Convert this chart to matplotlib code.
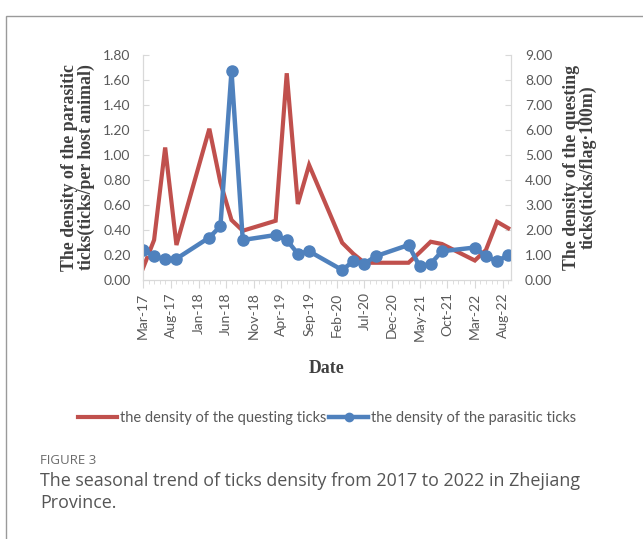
import pandas as pd
import matplotlib.pyplot as plt
import matplotlib.dates as mdates
from matplotlib.patches import Rectangle
from matplotlib.ticker import FuncFormatter

# Sampling dates (Mar, May, Jul, Sep of each year)
sample_dates = ['2017-03', '2017-05', '2017-07', '2017-09',
                '2018-03', '2018-05', '2018-07', '2018-09',
                '2019-03', '2019-05', '2019-07', '2019-09',
                '2020-03', '2020-05', '2020-07', '2020-09',
                '2021-03', '2021-05', '2021-07', '2021-09',
                '2022-03', '2022-05', '2022-07', '2022-09']

# Questing ticks, ticks/flag·100m (right axis)
questing = [0.47, 1.60, 5.30, 1.40,
            6.05, 3.90, 2.40, 1.97,
            2.37, 8.27, 3.04, 4.60,
            1.49, 1.05, 0.69, 0.69,
            0.69, 1.10, 1.53, 1.44,
            0.78, 1.20, 2.33, 2.07]

# Parasitic ticks, ticks/per host animal (left axis)
parasitic = [0.24, 0.19, 0.165, 0.17,
             0.34, 0.43, 1.67, 0.32,
             0.36, 0.32, 0.21, 0.23,
             0.08, 0.15, 0.13, 0.19,
             0.28, 0.11, 0.13, 0.23,
             0.26, 0.19, 0.15, 0.20]

dates = pd.to_datetime(sample_dates)

RED = '#C0504D'
BLUE = '#4F81BD'
GRAY = '#595959'
SPINE = '#D9D9D9'
tick_font = 'Lato'
label_font = 'Liberation Serif'

fig = plt.figure(figsize=(6.43, 5.39), dpi=100)

# outer frame of the figure panel
fig.patches.append(Rectangle((6 / 643, -0.1), 1.2, 1.1 - 16 / 539, transform=fig.transFigure,
                             fill=False, edgecolor='#9a9a9a', linewidth=1.0))

ax = fig.add_axes([143 / 643, 1 - 280 / 539, (511 - 143) / 643, 225 / 539])
ax2 = ax.twinx()

ax2.plot(dates, questing, color=RED, linewidth=3, solid_joinstyle='miter',
         label='the density of the questing ticks')
ax.plot(dates, parasitic, color=BLUE, linewidth=3.2, marker='o', markersize=8,
        label='the density of the parasitic ticks')

# parasitic series sits above the questing series
ax.set_zorder(ax2.get_zorder() + 1)
ax.patch.set_visible(False)

ax.set_ylim(0, 1.8)
ax.set_yticks([i * 0.2 for i in range(10)])
ax2.set_ylim(0, 9)
ax2.set_yticks(range(10))
fmt = FuncFormatter(lambda v, p: f'{v:.2f}')
ax.yaxis.set_major_formatter(fmt)
ax2.yaxis.set_major_formatter(fmt)

# monthly minor ticks, labels every five months
ax.set_xlim(pd.Timestamp('2017-03-01'), pd.Timestamp('2022-09-16'))
major = pd.date_range('2017-03-01', '2022-09-01', freq='5MS')
ax.set_xticks(major)
ax.xaxis.set_major_formatter(mdates.DateFormatter('%b-%y'))
ax.xaxis.set_minor_locator(mdates.MonthLocator())

for a in (ax, ax2):
    for s in a.spines.values():
        s.set_color(SPINE)
    a.spines['top'].set_visible(False)

ax.tick_params(axis='x', which='major', direction='out', length=6, color=SPINE,
               labelrotation=90, labelsize=10, labelcolor=GRAY, pad=3)
ax.tick_params(axis='x', which='minor', direction='out', length=3, color=SPINE)
ax.tick_params(axis='y', direction='in', length=4, color=SPINE,
               labelsize=10, labelcolor=GRAY, pad=9)
ax2.tick_params(axis='y', direction='in', length=4, color=SPINE,
                labelsize=10, labelcolor=GRAY, pad=10)
for lbl in ax.get_xticklabels() + ax.get_yticklabels() + ax2.get_yticklabels():
    lbl.set_fontfamily(tick_font)

label_style = dict(fontfamily=label_font, fontweight='bold', fontsize=12.8, color='#404040')
ax.set_ylabel('The density of the parasitic\nticks(ticks/per host animal)', labelpad=6,
              linespacing=0.95, **label_style)
ax2.set_ylabel('The density of the questing\nticks(ticks/flag·100m)', rotation=90,
               labelpad=8, linespacing=0.95, **label_style)
ax.set_xlabel('Date', labelpad=14, **label_style)

handles = ax2.get_lines() + ax.get_lines()
fig.legend(handles, [h.get_label() for h in handles], loc='center',
           bbox_to_anchor=(327 / 643, 1 - 418 / 539), ncol=2, frameon=False,
           handlelength=2.7, handletextpad=0.2, columnspacing=0.2, markerscale=0.75,
           prop={'family': tick_font, 'size': 10.5}, labelcolor=GRAY)

# caption
fig.text(40 / 643, 1 - 460 / 539, 'FIGURE 3', fontfamily='Open Sans', fontsize=9.5,
         color='#6b6b6b', va='center')
fig.text(40 / 643, 1 - 492 / 539,
         'The seasonal trend of ticks density from 2017 to 2022 in Zhejiang\nProvince.',
         fontfamily='Open Sans', fontsize=12.9, color='#555555', va='center',
         linespacing=1.3)

fig.savefig('out.png', dpi=100)
